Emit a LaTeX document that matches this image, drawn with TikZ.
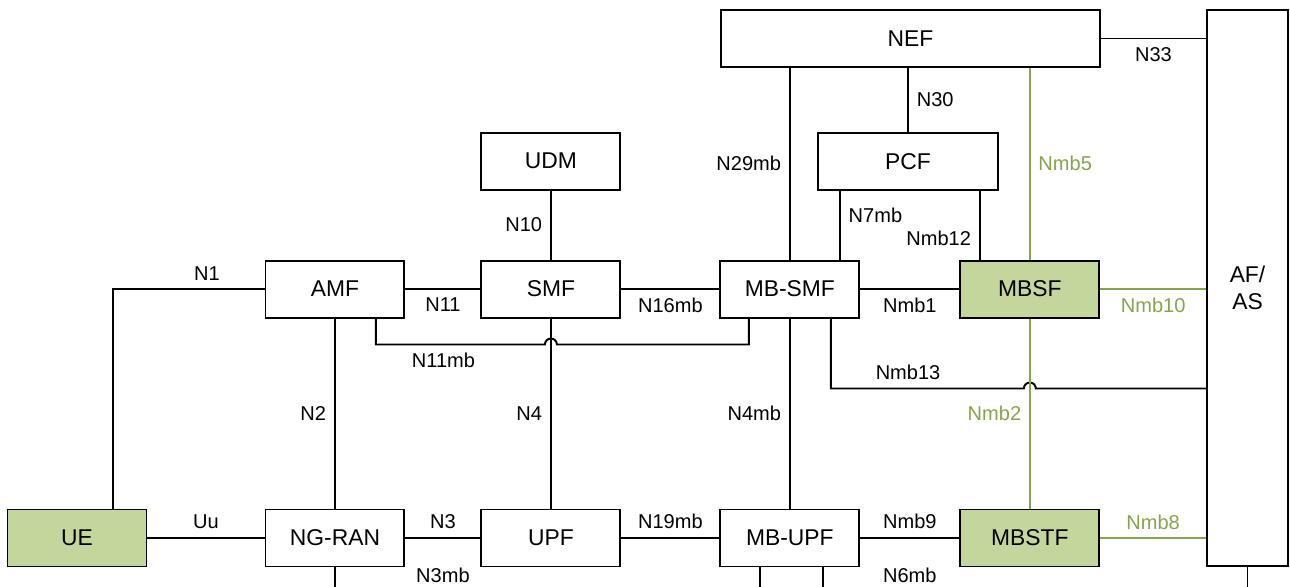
\documentclass[tikz,border=0pt]{standalone}
\usepackage{fontspec}
\setmainfont{Liberation Sans}
\usetikzlibrary{positioning,calc}

\definecolor{mbfill}{RGB}{195,214,155}
\definecolor{mbline}{RGB}{134,164,76}

\begin{document}
\begin{tikzpicture}[x=0.02cm,y=-0.02cm,line width=1.1pt,
  nf/.style={draw,fill=white,minimum width=2.78cm,minimum height=1.14cm,inner sep=0pt,font=\fontsize{13}{15}\selectfont},
  nfg/.style={nf,fill=mbfill},
  lbl/.style={font=\fontsize{11.4}{13}\selectfont,inner sep=4.5pt},
  glbl/.style={lbl,text=mbline},
  gline/.style={draw=mbline,line width=0.85pt}]
  \useasboundingbox (0,0) rectangle (1290,586);
  \node[nfg] (UE) at (77,538) {UE};
  \node[nf] (NGRAN) [right of=UE,node distance=5.16cm] {NG-RAN};
  \node[nf] (UPF) [right of=NGRAN,node distance=4.32cm] {UPF};
  \node[nf] (MBUPF) [right of=UPF,node distance=4.78cm] {MB-UPF};
  \node[nfg] (MBSTF) [right of=MBUPF,node distance=4.8cm] {MBSTF};
  \node[nf] (AMF) [above of=NGRAN,node distance=4.98cm] {AMF};
  \node[nf] (SMF) [above of=UPF,node distance=4.98cm] {SMF};
  \node[nf] (MBSMF) [above of=MBUPF,node distance=4.98cm] {MB-SMF};
  \node[nfg] (MBSF) [above of=MBSTF,node distance=4.98cm] {MBSF};
  \node[nf] (UDM) [above of=SMF,node distance=2.56cm] {UDM};
  \node[nf,minimum width=3.6cm] (PCF) at (908,161.5) {PCF};
  \node[nf,minimum width=7.58cm] (NEF) at (910.5,38.5) {NEF};
  \node[nf,minimum width=1.62cm,minimum height=11.12cm,align=center] (AFAS) at (1247.5,288) {AF/\\AS};
  \coordinate (bot) at (0,600);
  \coordinate (j1) at ($(SMF.south)+(0,26)$);
  \coordinate (j2) at ($(MBSF.south)+(0,70)$);

  \draw ([xshift=0.72cm]UE.north) |- node[lbl,above,pos=0.81]{N1} (AMF.west);
  \draw (UE) -- node[lbl,above]{Uu} (NGRAN);
  \draw (AMF) -- node[lbl,below]{N11} (SMF);
  \draw (AMF) -- node[lbl,left]{N2} (NGRAN);
  \draw (UDM) -- node[lbl,left]{N10} (SMF);
  \draw (SMF) -- node[lbl,left]{N4} (UPF);
  \draw (SMF) -- node[lbl,below]{N16mb} (MBSMF);
  \draw (NGRAN) -- node[lbl,above]{N3} node[lbl,below=0.42cm]{N3mb} (UPF);
  \draw (UPF) -- node[lbl,above]{N19mb} (MBUPF);
  \draw (MBSMF) -- node[lbl,left]{N4mb} (MBUPF);
  \draw (MBSMF) -- node[lbl,left]{N29mb} (MBSMF |- NEF.south);
  \draw (PCF.north) -- node[lbl,right]{N30} (PCF.north |- NEF.south);
  \draw ([xshift=1cm]MBSMF.north) -- node[lbl,right,pos=0.64]{N7mb} ([xshift=1cm]MBSMF.north |- PCF.south);
  \draw ([xshift=-1cm]MBSF.north) -- node[lbl,left,pos=0.31]{Nmb12} ([xshift=-1cm]MBSF.north |- PCF.south);
  \draw (MBSMF) -- node[lbl,below]{Nmb1} (MBSF);
  \draw (MBUPF) -- node[lbl,above]{Nmb9} node[lbl,below=0.42cm]{N6mb} (MBSTF);
  \draw (NEF.east) -- node[lbl,below]{N33} (NEF.east -| AFAS.west);
  \draw ([xshift=0.82cm]AMF.south) |- node[lbl,below,pos=0.7]{N11mb} ([xshift=-0.12cm]j1) arc (180:0:0.12cm) -| ([xshift=-0.82cm]MBSMF.south);
  \draw ([xshift=0.82cm]MBSMF.south) |- node[lbl,above,pos=0.7]{Nmb13} ([xshift=-0.12cm]j2) arc (180:0:0.12cm) -- (j2 -| AFAS.west);
  \draw[gline] (MBSF) -- node[glbl,right]{Nmb5} (MBSF |- NEF.south);
  \draw[gline] (MBSF) -- node[glbl,left]{Nmb2} (MBSTF);
  \draw[gline] (MBSF) -- node[glbl,below]{Nmb10} (MBSF -| AFAS.west);
  \draw[gline] (MBSTF) -- node[glbl,above]{Nmb8} (MBSTF -| AFAS.west);
  \draw (NGRAN.south) -- (NGRAN.south |- bot);
  \draw ([xshift=-0.6cm]MBUPF.south) -- ([xshift=-0.6cm]MBUPF.south |- bot);
  \draw ([xshift=0.66cm]MBUPF.south) -- ([xshift=0.66cm]MBUPF.south |- bot);
  \draw (AFAS.south) -- (AFAS.south |- bot);
\end{tikzpicture}
\end{document}
